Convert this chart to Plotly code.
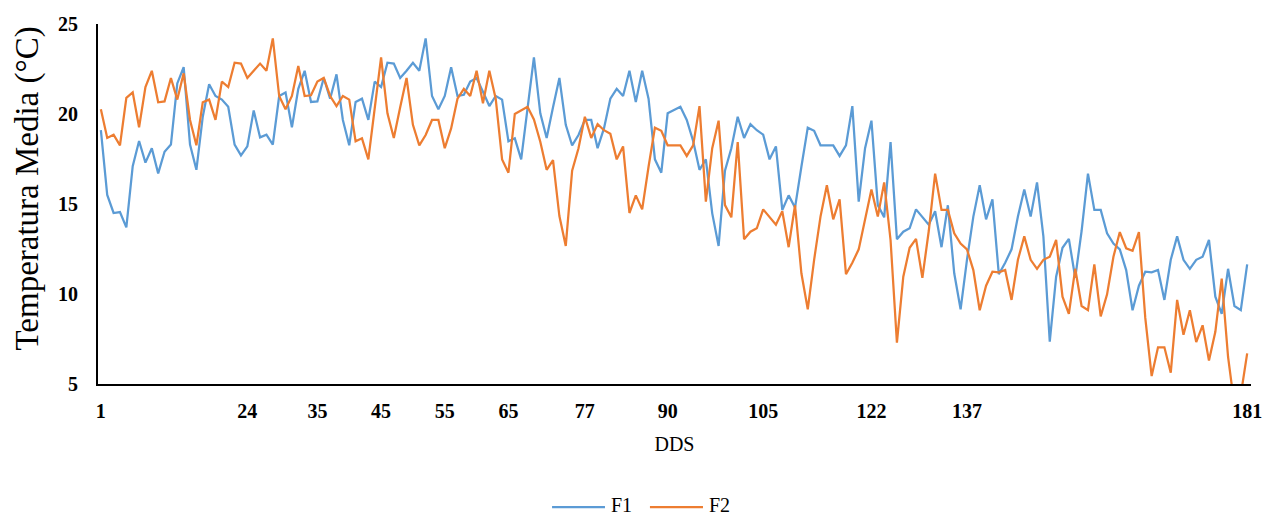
import plotly.graph_objects as go

# Days after sowing (DDS) and mean daily temperature (°C) for two plots
dds = list(range(1, 182))

f1 = [
    19.1, 15.5, 14.5, 14.55, 13.7, 17.1, 18.5, 17.3, 18.1, 16.7,
    17.9, 18.3, 21.7, 22.6, 18.3, 16.9, 19.85, 21.65, 21.0, 20.8,
    20.4, 18.3, 17.7, 18.2, 20.2, 18.7, 18.85, 18.3, 21.0, 21.2,
    19.26, 21.4, 22.4, 20.67, 20.7, 22.0, 20.85, 22.2, 19.67, 18.26,
    20.67, 20.85, 19.67, 21.8, 21.5, 22.85, 22.8, 22.0, 22.4, 22.85,
    22.4, 24.2, 21.0, 20.26, 21.0, 22.6, 21.0, 21.07, 21.8, 22.0,
    21.24, 20.44, 21.0, 20.8, 18.48, 18.65, 17.48, 20.22, 23.15, 20.04,
    18.67, 20.37, 22.0, 19.4, 18.26, 18.83, 19.67, 19.67, 18.1, 19.2,
    20.85, 21.4, 21.0, 22.4, 20.67, 22.4, 20.85, 17.48, 16.74, 20.04,
    20.2, 20.4, 19.67, 18.5, 16.9, 17.48, 14.48, 12.67, 16.85, 18.1,
    19.85, 18.67, 19.44, 19.1, 18.85, 17.48, 18.2, 14.67, 15.48, 14.8,
    17.07, 19.24, 19.07, 18.26, 18.26, 18.26, 17.67, 18.26, 20.44, 15.13,
    18.1, 19.63, 14.94, 14.26, 18.44, 13.04, 13.46, 13.65, 14.7, 14.3,
    13.85, 14.6, 12.6, 14.93, 11.15, 9.15, 11.9, 14.3, 16.04, 14.15,
    15.26, 11.1, 11.74, 12.48, 14.3, 15.8, 14.3, 16.2, 13.2, 7.35,
    10.96, 12.57, 13.06, 10.9, 13.5, 16.69, 14.67, 14.67, 13.37, 12.8,
    12.48, 11.33, 9.1, 10.46, 11.24, 11.2, 11.33, 9.67, 11.9, 13.2,
    11.9, 11.4, 11.9, 12.07, 13.0, 9.85, 8.9, 11.4, 9.33, 9.1,
    11.65,
]

f2 = [
    20.26, 18.67, 18.85, 18.26, 20.9, 21.2, 19.26, 21.5, 22.4, 20.65,
    20.7, 22.0, 20.8, 22.26, 19.67, 18.26, 20.65, 20.8, 19.67, 21.8,
    21.5, 22.85, 22.8, 22.0, 22.4, 22.8, 22.4, 24.2, 21.0, 20.26,
    21.0, 22.67, 21.0, 21.04, 21.8, 22.0, 21.0, 20.44, 21.0, 20.8,
    18.48, 18.65, 17.48, 20.22, 23.15, 20.04, 18.67, 20.37, 22.0, 19.4,
    18.26, 18.83, 19.67, 19.67, 18.1, 19.2, 20.85, 21.4, 21.0, 22.4,
    20.6, 22.4, 20.85, 17.48, 16.74, 20.0, 20.22, 20.4, 19.7, 18.46,
    16.9, 17.44, 14.33, 12.67, 16.85, 18.1, 19.85, 18.67, 19.44, 19.1,
    18.9, 17.48, 18.2, 14.5, 15.48, 14.7, 17.07, 19.24, 19.07, 18.26,
    18.26, 18.26, 17.67, 18.26, 20.44, 15.13, 18.1, 19.63, 14.94, 14.26,
    18.44, 13.04, 13.46, 13.65, 14.7, 14.3, 13.85, 14.6, 12.6, 14.93,
    11.15, 9.15, 11.9, 14.3, 16.04, 14.15, 15.26, 11.1, 11.74, 12.48,
    14.1, 15.8, 14.3, 16.2, 13.0, 7.3, 10.96, 12.57, 13.06, 10.9,
    13.5, 16.69, 14.67, 14.67, 13.37, 12.8, 12.48, 11.33, 9.1, 10.46,
    11.24, 11.2, 11.33, 9.67, 11.9, 13.2, 11.9, 11.4, 11.9, 12.07,
    13.0, 9.85, 8.9, 11.4, 9.33, 9.1, 11.65, 8.76, 9.98, 12.07,
    13.44, 12.54, 12.4, 13.44, 8.67, 5.44, 7.04, 7.04, 5.63, 9.67,
    7.74, 9.1, 7.33, 8.26, 6.3, 7.9, 10.85, 6.5, 3.8, 4.4,
    6.7,
]

x_ticks = [1, 24, 35, 45, 55, 65, 77, 90, 105, 122, 137, 181]
y_ticks = [5, 10, 15, 20, 25]

series_names = ["F1", "F2"]
series_colors = ["#5B9BD5", "#ED7D31"]

SERIF = "Liberation Serif, Times New Roman, serif"

fig = go.Figure()
for name, vals, color in zip(series_names, [f1, f2], series_colors):
    fig.add_trace(go.Scatter(x=dds, y=vals, mode="lines", name=name,
                             line=dict(color=color, width=2.25)))

# Legend row under the axis: a short line sample followed by the series name
legend_shapes = []
legend_notes = []
legend_y = -0.3361
sample_x = [(0.3938, 0.4397), (0.4787, 0.5247)]
for (x0, x1), name, color in zip(sample_x, series_names, series_colors):
    legend_shapes.append(dict(type="line", xref="paper", yref="paper",
                              x0=x0, x1=x1, y0=legend_y - 0.006, y1=legend_y - 0.006,
                              line=dict(color=color, width=2.25)))
    legend_notes.append(dict(text=name, xref="paper", yref="paper",
                             x=x1 + 0.0043, y=legend_y, xanchor="left",
                             yanchor="middle", showarrow=False, borderpad=0,
                             font=dict(family=SERIF, size=20, color="black")))

fig.update_layout(
    width=1266, height=517,
    margin=dict(l=98, r=15, t=24, b=133),
    paper_bgcolor="white", plot_bgcolor="white",
    font=dict(family=SERIF, color="black", size=20),
    showlegend=False,
    xaxis=dict(
        range=[0.55, 181.6], automargin=False,
        tickmode="array", tickvals=x_ticks,
        ticktext=[str(v) for v in x_ticks],
        tickfont=dict(family=SERIF, size=20, weight="bold"),
        ticks="", ticklabelstandoff=8,
        showgrid=False, zeroline=False,
        showline=True, linecolor="black", linewidth=2,
        title=dict(text="DDS", font=dict(family=SERIF, size=20), standoff=16),
    ),
    yaxis=dict(
        range=[5, 25], automargin=False,
        tickmode="array", tickvals=y_ticks,
        tickfont=dict(family=SERIF, size=20, weight="bold"),
        ticks="", ticklabelstandoff=14,
        showgrid=False, zeroline=False,
        showline=True, linecolor="black", linewidth=2,
    ),
    shapes=legend_shapes,
    annotations=[dict(
        text="Temperatura Media (°C)", textangle=-90,
        xref="paper", yref="paper", x=-0.0611, y=0.5417,
        xanchor="center", yanchor="middle", showarrow=False,
        font=dict(family=SERIF, size=33, color="black"),
    )] + legend_notes,
)

fig.write_html("out.html")
